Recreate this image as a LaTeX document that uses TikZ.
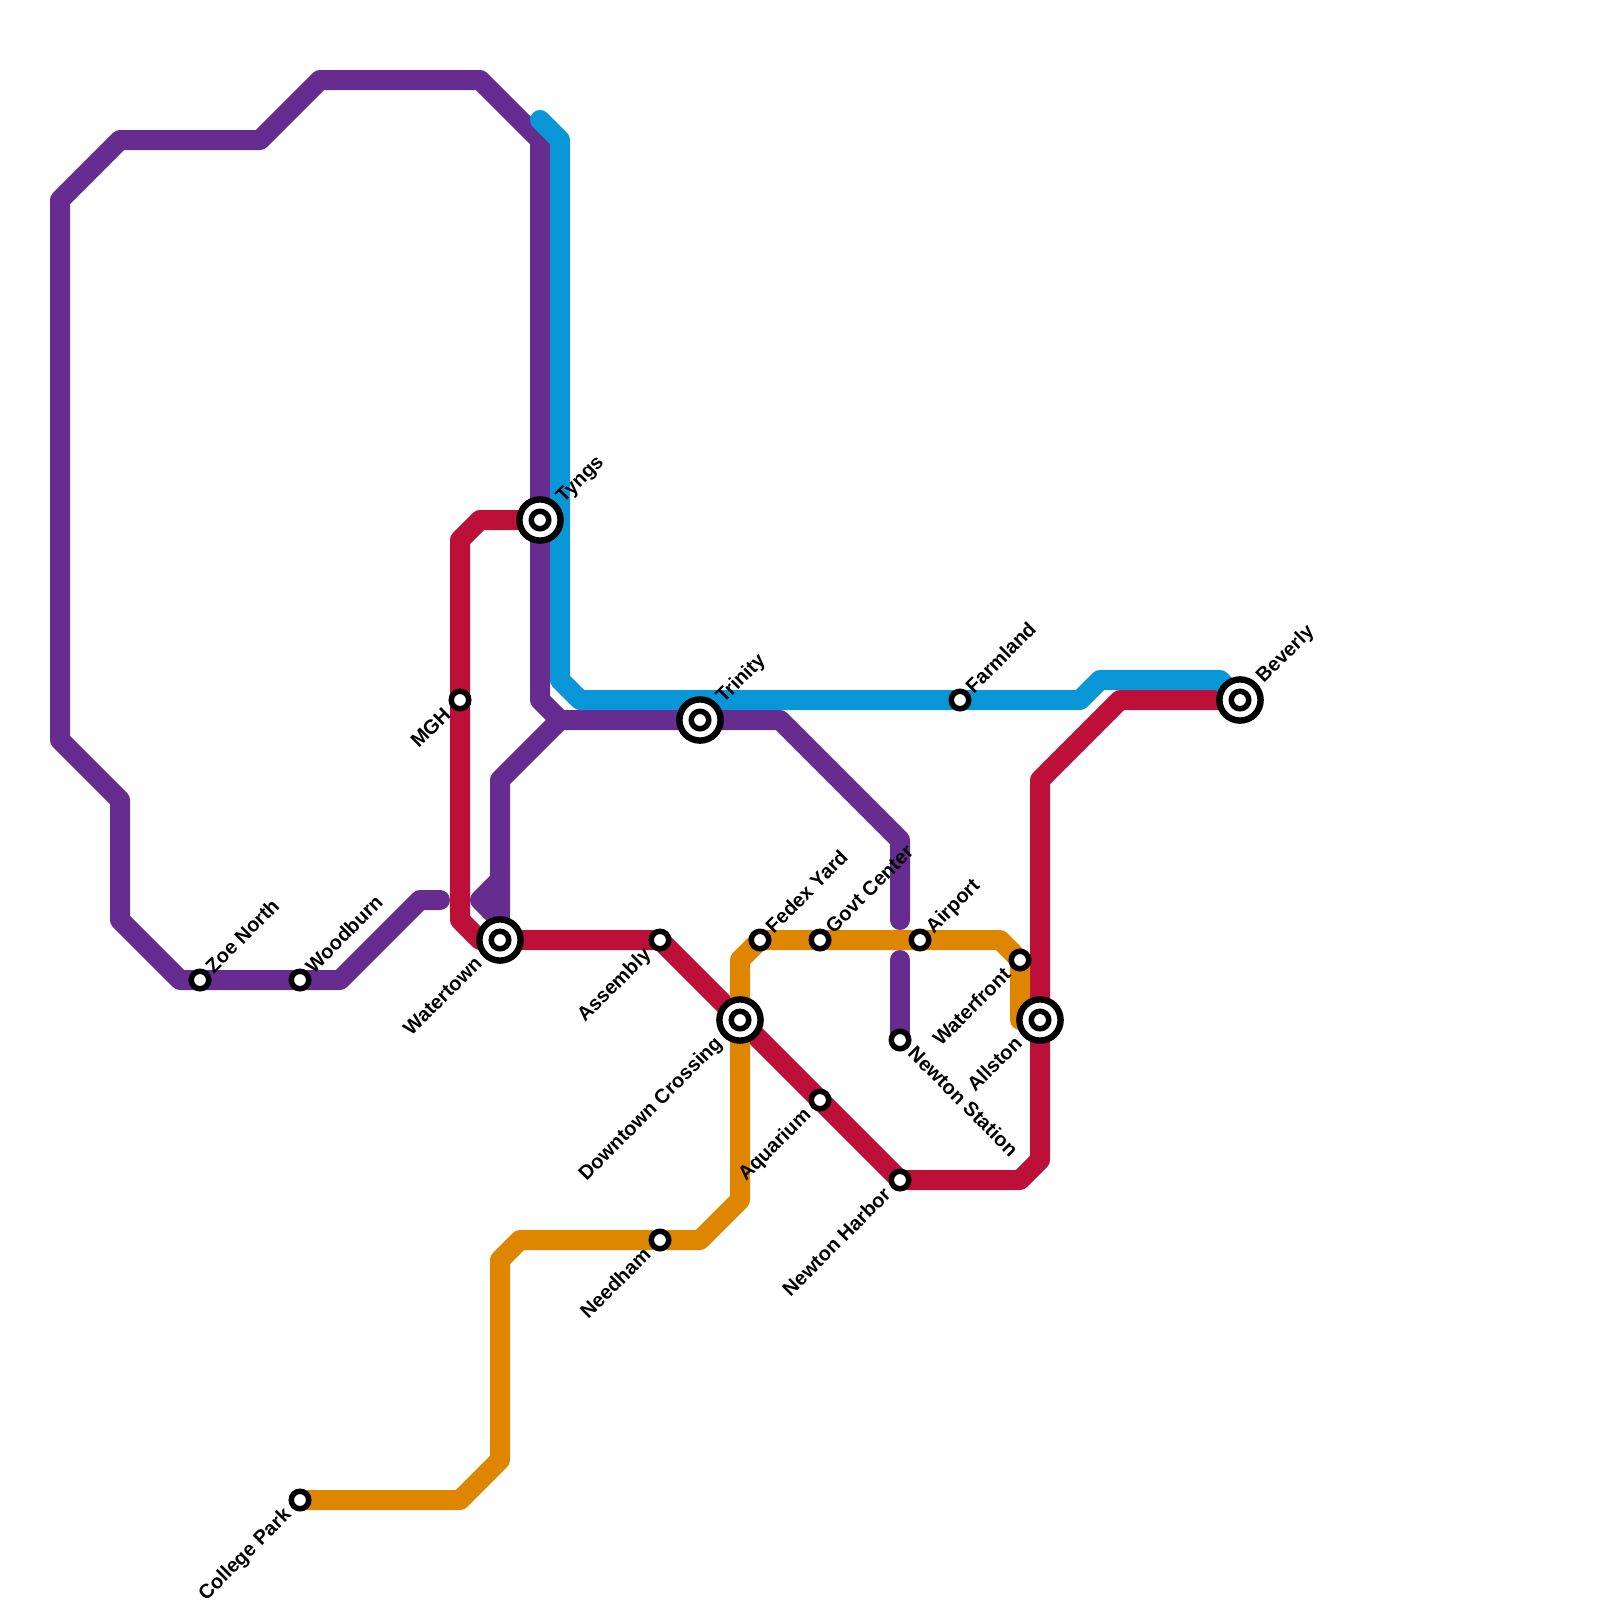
\documentclass[tikz,border=0pt]{standalone}
\usepackage{fontspec}
\setmainfont{Liberation Sans}
\usetikzlibrary{backgrounds}
\definecolor{linepurple}{HTML}{662C90}
\definecolor{lineblue}{HTML}{0896D7}
\definecolor{linered}{HTML}{BD1038}
\definecolor{lineorange}{HTML}{DF8600}
\tikzset{
  metro/.style={line width=5mm,line cap=round,line join=round},
  stop/.style={circle,draw=black,fill=white,line width=1.375mm,minimum size=4.375mm,inner sep=0pt,outer sep=0pt},
  hub/.style={circle,draw=black,fill=white,line width=1.6mm,minimum size=10.3mm,inner sep=0pt,outer sep=0pt},
  lbl/.style={font=\fontsize{14.2}{16}\selectfont\bfseries,text=black,inner ysep=0pt,text height=3.6mm,text depth=0.8mm},
  lblup/.style={lbl,rotate=45,anchor=west,inner xsep=3.4mm},
  lbldown/.style={lbl,rotate=45,anchor=east,inner xsep=4.2mm},
  lblhubup/.style={lbl,rotate=45,anchor=west,inner xsep=7mm},
  lblhubdown/.style={lbl,rotate=45,anchor=east,inner xsep=7.3mm},
}
\begin{document}
\begin{tikzpicture}[y=-0.5cm, x=0.5cm]
    \useasboundingbox (0,0) rectangle (80,80);
    % plain stops
    \foreach \nm/\x/\y/\txt in {zoe/10/49/Zoe North,woodburn/15/49/Woodburn,fedex/38/47/Fedex Yard,govt/41/47/Govt Center,airport/46/47/Airport,farmland/48/35/Farmland} {
      \node[stop] (\nm) at (\x,\y) {};
      \node[lblup] (\nm txt) at (\nm) {\txt};
    }
    \foreach \nm/\x/\y/\txt in {college/15/75/College Park,mgh/23/35/MGH,assembly/33/47/Assembly,needham/33/62/Needham,aquarium/41/55/Aquarium,harbor/45/59/Newton Harbor,waterfront/51/48/Waterfront} {
      \node[stop] (\nm) at (\x,\y) {};
      \node[lbldown] (\nm txt) at (\nm) {\txt};
    }
    \node[stop] (newton) at (45,52) {};
    \node[lblup,rotate=-90,inner xsep=3.8mm] (newton txt) at (newton) {Newton Station};
    % interchanges
    \foreach \nm/\x/\y/\txt in {tyngs/27/26/Tyngs,trinity/35/36/Trinity,beverly/62/35/Beverly} {
      \node[hub] (\nm) at (\x,\y) {};
      \node[stop] (\nm dot) at (\nm) {};
      \node[lblhubup] (\nm txt) at (\nm) {\txt};
    }
    \foreach \nm/\x/\y/\txt in {watertown/25/47/Watertown,downtown/37/51/Downtown Crossing,allston/52/51/Allston} {
      \node[hub] (\nm) at (\x,\y) {};
      \node[stop] (\nm dot) at (\nm) {};
      \node[lblhubdown] (\nm txt) at (\nm) {\txt};
    }
    % lines
    \begin{scope}[on background layer]
      \draw[metro,linered] (tyngs.center) -- (24,26) -- (23,27) -- (mgh.center) -- (23,46) -- (24,47) -- (watertown.center) -- (assembly.center) -- (downtown.center) -- (aquarium.center) -- (harbor.center) -- (51,59) -- (52,58) -- (allston.center) -- (52,39) -- (56,35) -- (beverly.center);
      \draw[metro,lineorange] (college.center) -- (23,75) -- (25,73) -- (25,63) -- (26,62) -- (needham.center) -- (35,62) -- (37,60) -- (downtown.center) -- (37,48) -- (fedex.center) -- (govt.center) -- (airport.center) -- (50,47) -- (waterfront.center) -- (51,51);
      \draw[metro,linepurple] (zoe.center) -- (9,49) -- (6,46) -- (6,40) -- (3,37) -- (3,10) -- (6,7) -- (13,7) -- (16,4) -- (24,4) -- (27,7) -- (tyngs.center) -- (27,35) -- (28,36) -- (trinity.center) -- (39,36) -- (45,42) -- (45,46);
      \draw[metro,linepurple] (zoe.center) -- (woodburn.center) -- (17,49) -- (21,45) -- (22,45);
      \draw[metro,linepurple] (45,48) -- (newton.center);
      \draw[metro,linepurple] (28,36) -- (25,39) -- (watertown.center);
      \draw[metro,linepurple] (25,44) -- (24,45) -- (25,46);
      \draw[metro,lineblue] (27,6) -- (28,7) -- (28,34) -- (29,35) -- (farmland.center) -- (54,35) -- (55,34) -- (61,34) -- (beverly.center);
    \end{scope}
\end{tikzpicture}
\end{document}
